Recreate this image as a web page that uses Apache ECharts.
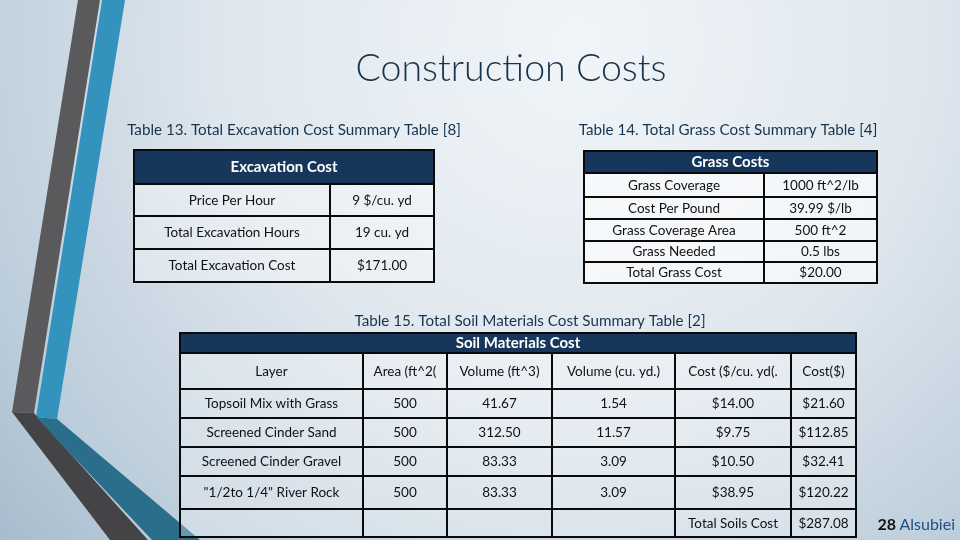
<!DOCTYPE html>
<html><head><meta charset="utf-8">
<script src="https://cdn.jsdelivr.net/npm/echarts@6/dist/echarts.min.js"></script>
<style>html,body{margin:0;padding:0;overflow:hidden;} #c{width:960px;height:540px;}</style>
</head><body><div id="c"></div>
<script>
// ---- text & data ----
const titleText = 'Construction Costs';
const caption13 = 'Table 13. Total Excavation Cost Summary Table [8]';
const caption14 = 'Table 14. Total Grass Cost Summary Table [4]';
const caption15 = 'Table 15. Total Soil Materials Cost Summary Table [2]';

const excavationHeader = 'Excavation Cost';
const excavationItems = ['Price Per Hour', 'Total Excavation Hours', 'Total Excavation Cost'];
const excavationValues = ['9 $/cu. yd', '19 cu. yd', '$171.00'];

const grassHeader = 'Grass Costs';
const grassItems = ['Grass Coverage', 'Cost Per Pound', 'Grass Coverage Area', 'Grass Needed', 'Total Grass Cost'];
const grassValues = ['1000 ft^2/lb', '39.99 $/lb', '500 ft^2', '0.5 lbs', '$20.00'];

const soilHeader = 'Soil Materials Cost';
const soilColumns = ['Layer', 'Area (ft^2(', 'Volume (ft^3)', 'Volume (cu. yd.)', 'Cost ($/cu. yd(.', 'Cost($)'];
const soilLayers = ['Topsoil Mix with Grass', 'Screened Cinder Sand', 'Screened Cinder Gravel', '"1/2to 1/4" River Rock'];
const soilArea = ['500', '500', '500', '500'];
const soilVolumeFt3 = ['41.67', '312.50', '83.33', '83.33'];
const soilVolumeYd3 = ['1.54', '11.57', '3.09', '3.09'];
const soilUnitCost = ['$14.00', '$9.75', '$10.50', '$38.95'];
const soilCost = ['$21.60', '$112.85', '$32.41', '$120.22'];
const soilTotalLabel = 'Total Soils Cost';
const soilTotalValue = '$287.08';

const footerNumber = '28';
const footerName = 'Alsubiei';

// ---- layout ----
const FONT = 'Lato, "Open Sans", sans-serif';
const NAVY = '#16375b';
const els = [];

const chart = echarts.init(document.getElementById('c'), null, {renderer: 'canvas'});

// background
els.push({type: 'rect', z: 0, shape: {x: 0, y: 0, width: 960, height: 540},
  style: {fill: new echarts.graphic.RadialGradient(0.6, 0.08, 1.45, [
    {offset: 0, color: '#f1f5f8'}, {offset: 0.45, color: '#dfe7ee'},
    {offset: 0.8, color: '#bccddb'}, {offset: 1, color: '#a3b9ca'}])}});

// decorative stripes
function poly(points, fill) {
  els.push({type: 'polygon', z: 1, shape: {points}, style: {fill}});
}
poly([[78, 0], [100, 0], [34, 413], [12, 412]], '#5a5a5c');
poly([[102, 0], [125, 0], [57, 419], [36, 417]], '#3393bc');
poly([[12, 412], [34, 413], [148, 540], [110, 540]], '#444446');
poly([[36, 417], [57, 419], [200, 540], [152, 540]], '#2a6e8c');

function text(x, y, str, size, color, weight, align) {
  els.push({type: 'text', z: 5, x, y, style: {text: str, fill: color, fontSize: size,
    fontFamily: FONT, fontWeight: weight || 'normal', align: align || 'center', verticalAlign: 'middle'}});
}
function cell(x1, y1, x2, y2, str, header, fill) {
  els.push({type: 'rect', z: 3, shape: {x: x1, y: y1, width: x2 - x1, height: y2 - y1},
    style: {fill: header ? NAVY : fill, stroke: '#0a0a0a', lineWidth: 2}});
  if (str !== '') {
    els.push({type: 'text', z: 5, x: (x1 + x2) / 2, y: (y1 + y2) / 2 + 0.5,
      style: {text: str, fill: header ? '#ffffff' : '#111111', fontSize: header ? 15 : 13.5,
        fontFamily: FONT, fontWeight: header ? 'bold' : 'normal', align: 'center', verticalAlign: 'middle'}});
  }
}

// title & captions
text(511, 69, titleText, 37.5, '#17344f', 300);
text(294, 130, caption13, 15.2, '#17344f');
text(728, 130, caption14, 15.2, '#17344f');
text(530, 321, caption15, 15.2, '#17344f');

// Table 13
{
  const cx = [134, 330, 434];
  const ry = [150, 184, 216, 249, 282];
  const fill = 'rgba(255,255,255,0.35)';
  cell(cx[0], ry[0], cx[2], ry[1], excavationHeader, true);
  excavationItems.forEach((it, i) => {
    cell(cx[0], ry[i + 1], cx[1], ry[i + 2], it, false, fill);
    cell(cx[1], ry[i + 1], cx[2], ry[i + 2], excavationValues[i], false, fill);
  });
}

// Table 14
{
  const cx = [584, 764, 877];
  const ry = [151, 173, 197, 219, 241, 262, 283];
  const fill = 'rgba(255,255,255,0.6)';
  cell(cx[0], ry[0], cx[2], ry[1], grassHeader, true);
  grassItems.forEach((it, i) => {
    cell(cx[0], ry[i + 1], cx[1], ry[i + 2], it, false, fill);
    cell(cx[1], ry[i + 1], cx[2], ry[i + 2], grassValues[i], false, fill);
  });
}

// Table 15
{
  const cx = [180, 363, 447, 552, 675, 791, 856];
  const ry = [333, 353, 389, 418, 447, 476, 509, 537];
  const fill = 'rgba(255,255,255,0.3)';
  cell(cx[0], ry[0], cx[6], ry[1], soilHeader, true);
  soilColumns.forEach((c, j) => cell(cx[j], ry[1], cx[j + 1], ry[2], c, false, fill));
  soilLayers.forEach((layer, i) => {
    const row = [layer, soilArea[i], soilVolumeFt3[i], soilVolumeYd3[i], soilUnitCost[i], soilCost[i]];
    row.forEach((v, j) => cell(cx[j], ry[i + 2], cx[j + 1], ry[i + 3], v, false, fill));
  });
  const last = ['', '', '', '', soilTotalLabel, soilTotalValue];
  last.forEach((v, j) => cell(cx[j], ry[6], cx[j + 1], ry[7], v, false, fill));
}

// footer
els.push({type: 'text', z: 5, x: 955, y: 525, style: {
  text: '{a|' + footerNumber + '} {b|' + footerName + '}', align: 'right', verticalAlign: 'middle',
  rich: {a: {fontSize: 16, fontFamily: FONT, fill: '#111111', fontWeight: 'bold'},
         b: {fontSize: 16, fontFamily: FONT, fill: '#1f4f7e'}}}});

chart.setOption({animation: false, graphic: {elements: els}});
</script>
</body></html>
